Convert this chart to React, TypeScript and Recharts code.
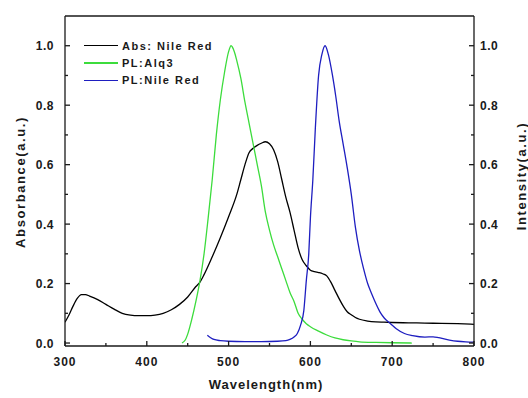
import { LineChart, Line, XAxis, YAxis, ReferenceLine } from "recharts";

// Abs: Nile Red (left axis)
const absWl = [300, 305, 310, 315, 320, 325, 330, 340, 350, 360, 370, 380, 390, 400, 410, 420, 430, 440, 450, 460, 465, 470, 480, 490, 500, 510, 515, 520, 525, 530, 535, 540, 545, 550, 555, 560, 565, 570, 575, 580, 585, 590, 595, 600, 605, 610, 615, 620, 625, 630, 640, 645, 650, 655, 660, 670, 680, 690, 700, 720, 740, 760, 780, 800];
const absVal = [0.07, 0.095, 0.125, 0.15, 0.163, 0.163, 0.158, 0.146, 0.13, 0.114, 0.1, 0.094, 0.092, 0.092, 0.094, 0.1, 0.112, 0.13, 0.155, 0.19, 0.205, 0.23, 0.29, 0.355, 0.425, 0.5, 0.55, 0.6, 0.64, 0.655, 0.665, 0.672, 0.677, 0.67, 0.65, 0.61, 0.55, 0.49, 0.44, 0.38, 0.32, 0.28, 0.26, 0.245, 0.24, 0.237, 0.233, 0.226, 0.205, 0.177, 0.125, 0.105, 0.095, 0.086, 0.08, 0.074, 0.071, 0.07, 0.069, 0.068, 0.067, 0.066, 0.065, 0.063];

// PL: Alq3 (right axis)
const alqWl = [443, 447, 450, 455, 460, 465, 470, 475, 480, 485, 490, 495, 500, 503, 507, 510, 515, 520, 525, 530, 535, 540, 545, 550, 555, 560, 565, 570, 575, 580, 585, 590, 595, 600, 610, 620, 630, 640, 650, 660, 680, 700, 724];
const alqVal = [0, 0.01, 0.03, 0.08, 0.14, 0.21, 0.3, 0.42, 0.55, 0.7, 0.82, 0.91, 0.98, 1.0, 0.98, 0.95, 0.89, 0.81, 0.74, 0.67, 0.6, 0.53, 0.44, 0.38, 0.33, 0.29, 0.25, 0.21, 0.17, 0.14, 0.1, 0.08, 0.065, 0.055, 0.04, 0.027, 0.017, 0.011, 0.007, 0.004, 0.002, 0.001, 0];

// PL: Nile Red (right axis)
const nrWl = [474, 478, 482, 490, 500, 520, 540, 560, 570, 575, 580, 584, 588, 592, 595, 598, 600, 603, 606, 610, 614, 618, 622, 627, 631, 635, 640, 645, 650, 655, 660, 665, 670, 675, 680, 685, 690, 698, 705, 715, 725, 740, 750, 757, 770, 780, 790, 800];
const nrVal = [0.026, 0.018, 0.012, 0.008, 0.006, 0.005, 0.005, 0.006, 0.008, 0.012, 0.02, 0.032, 0.06, 0.11, 0.21, 0.3, 0.42, 0.55, 0.72, 0.9, 0.97, 1.0, 0.97, 0.9, 0.83, 0.75, 0.67, 0.59, 0.5, 0.39, 0.31, 0.25, 0.2, 0.165, 0.133, 0.105, 0.085, 0.065, 0.048, 0.032, 0.025, 0.02, 0.021, 0.018, 0.01, 0.006, 0.004, 0.003];

const xTicks = [300, 350, 400, 450, 500, 550, 600, 650, 700, 750, 800];
const yTicks = [0, 0.1, 0.2, 0.3, 0.4, 0.5, 0.6, 0.7, 0.8, 0.9, 1.0];

const series = [
  { name: "Abs: Nile Red", wl: absWl, val: absVal, color: "#000000", axis: "left" },
  { name: "PL:Alq3", wl: alqWl, val: alqVal, color: "#3cdc3c", axis: "right" },
  { name: "PL:Nile Red", wl: nrWl, val: nrVal, color: "#1e1ec0", axis: "right" },
];

const FONT = "Arial, 'Liberation Sans', sans-serif";
const INK = "#1a1a1a";
const M = 10;

const XTick = ({ x, y, payload }: any) => {
  const axisY = y - M;
  const major = payload.value % 100 === 0;
  return (
    <g>
      <line x1={x} y1={axisY} x2={x} y2={axisY - (major ? 5 : 3)} stroke={INK} strokeWidth={1.3} />
      {major && (
        <text x={x} y={axisY + 20} textAnchor="middle" fontSize={12} fontWeight="bold" letterSpacing={1} fill={INK} fontFamily={FONT}>
          {payload.value}
        </text>
      )}
    </g>
  );
};

const isMajorY = (v: number) => Math.round(v * 10) % 2 === 0;

const LeftTick = ({ x, y, payload }: any) => {
  const axisX = x + M;
  const major = isMajorY(payload.value);
  return (
    <g>
      <line x1={axisX} y1={y} x2={axisX + (major ? 5 : 3)} y2={y} stroke={INK} strokeWidth={1.3} />
      {major && (
        <text x={axisX - 11} y={y + 4.5} textAnchor="end" fontSize={12} fontWeight="bold" letterSpacing={0.5} fill={INK} fontFamily={FONT}>
          {payload.value.toFixed(1)}
        </text>
      )}
    </g>
  );
};

const RightTick = ({ x, y, payload }: any) => {
  const axisX = x - M;
  const major = isMajorY(payload.value);
  return (
    <g>
      <line x1={axisX} y1={y} x2={axisX - (major ? 5 : 3)} y2={y} stroke={INK} strokeWidth={1.3} />
      {major && (
        <text x={axisX + 6} y={y + 4.5} textAnchor="start" fontSize={12} fontWeight="bold" letterSpacing={0.5} fill={INK} fontFamily={FONT}>
          {payload.value.toFixed(1)}
        </text>
      )}
    </g>
  );
};

const AxisTitle = ({ cx, cy, text, rotate, spacing }: any) => (
  <text
    x={cx}
    y={cy}
    transform={rotate ? `rotate(-90 ${cx} ${cy})` : undefined}
    textAnchor="middle"
    dominantBaseline="central"
    fontSize={13}
    fontWeight="bold"
    letterSpacing={spacing}
    fill={INK}
    fontFamily={FONT}
  >
    {text}
  </text>
);

export default function App() {
  return (
    <div style={{ position: "absolute", left: 0, top: 0, width: 528, height: 398, background: "#fff" }}>
      <LineChart width={528} height={398} margin={{ top: 16, right: 0, bottom: 0, left: 0 }}>
        <XAxis
          xAxisId="bottom"
          type="number"
          dataKey="wl"
          domain={[300, 800]}
          ticks={xTicks}
          interval={0}
          height={52}
          tickSize={0}
          tickMargin={M}
          tickLine={false}
          tick={<XTick />}
          axisLine={{ stroke: INK, strokeWidth: 1.3 }}
          allowDataOverflow
          label={<AxisTitle cx={266} cy={384} text="Wavelength(nm)" spacing={1} />}
        />
        <YAxis
          yAxisId="left"
          type="number"
          domain={[-0.01, 1.1]}
          ticks={yTicks}
          interval={0}
          width={65}
          tickSize={0}
          tickMargin={M}
          tickLine={false}
          tick={<LeftTick />}
          axisLine={{ stroke: INK, strokeWidth: 1.3 }}
          allowDataOverflow
          label={<AxisTitle cx={20} cy={182} text="Absorbance(a.u.)" rotate spacing={1.6} />}
        />
        <YAxis
          yAxisId="right"
          orientation="right"
          type="number"
          domain={[-0.01, 1.1]}
          ticks={yTicks}
          interval={0}
          width={54}
          tickSize={0}
          tickMargin={M}
          tickLine={false}
          tick={<RightTick />}
          axisLine={{ stroke: INK, strokeWidth: 1.3 }}
          allowDataOverflow
          label={<AxisTitle cx={521} cy={176} text="Intensity(a.u.)" rotate spacing={1.6} />}
        />
        <ReferenceLine xAxisId="bottom" yAxisId="left" y={1.1} stroke={INK} strokeWidth={1.3} ifOverflow="extendDomain" />
        {series.map((s) => (
          <Line
            key={s.name}
            xAxisId="bottom"
            yAxisId={s.axis}
            data={s.wl.map((w, i) => ({ wl: w, v: s.val[i] }))}
            dataKey="v"
            name={s.name}
            type="monotone"
            stroke={s.color}
            strokeWidth={1.3}
            dot={false}
            activeDot={false}
            isAnimationActive={false}
          />
        ))}
      </LineChart>
      <div style={{ position: "absolute", left: 84, top: 37, fontFamily: FONT }}>
        {series.map((s) => (
          <div key={s.name} style={{ display: "flex", alignItems: "center", height: 17.3 }}>
            <div style={{ width: 34, height: 1.4, background: s.color }} />
            <span style={{ marginLeft: 4, fontSize: 11, fontWeight: "bold", letterSpacing: 1.5, color: INK }}>{s.name}</span>
          </div>
        ))}
      </div>
    </div>
  );
}
